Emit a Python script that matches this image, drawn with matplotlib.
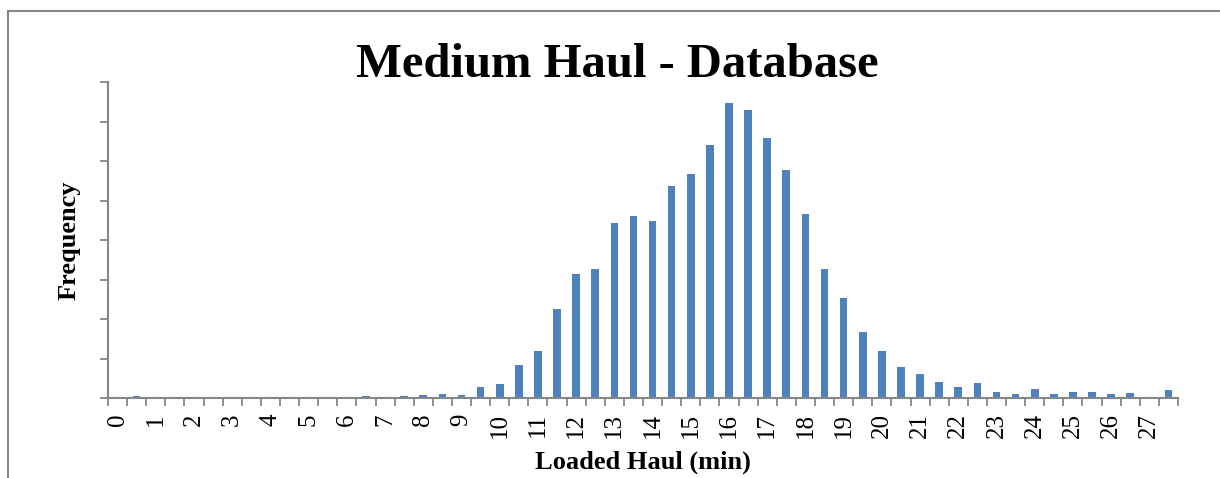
import numpy as np
from matplotlib import pyplot as plt
from matplotlib.lines import Line2D

# haul time bins (half-minute steps), only whole minutes get a label
bins = np.arange(0, 28, 0.5)
tick_labels = [str(m) for m in range(28)]
freq = [0.01, 0.05, 0.0, 0.01, 0.0, 0.03, 0.01, 0.0, 0.01, 0.0,
        0.0, 0.0, 0.01, 0.04, 0.01, 0.05, 0.08, 0.10, 0.08, 0.27,
        0.35, 0.84, 1.19, 2.25, 3.13, 3.26, 4.43, 4.61, 4.48, 5.37,
        5.66, 6.41, 7.46, 7.29, 6.59, 5.77, 4.65, 3.27, 2.54, 1.66,
        1.18, 0.79, 0.62, 0.41, 0.27, 0.37, 0.16, 0.11, 0.23, 0.11,
        0.16, 0.16, 0.09, 0.12, 0.03, 0.19]

plt.rcParams['font.family'] = ['Liberation Serif', 'DejaVu Serif']
axis_grey = '#868686'

fig = plt.figure(figsize=(12.2, 4.78), dpi=100)
ax = fig.add_axes([108 / 1220, 1 - 398 / 478, 1070 / 1220, 316 / 478])

pos = np.arange(len(bins))
ax.bar(pos, freq, width=0.4, color='#4F81BD', edgecolor='none')

ax.set_xlim(-0.5, len(bins) - 0.5)
ax.set_ylim(0, 8)
ax.set_yticks(range(9))
ax.set_yticklabels([])

ax.set_xticks(pos[::2])
ax.set_xticklabels(tick_labels, rotation=90, fontsize=18)
ax.set_xticks(np.arange(-0.5, len(bins)), minor=True)
ax.tick_params(axis='x', which='major', length=0, pad=11)
ax.tick_params(axis='x', which='minor', length=6, color=axis_grey, width=1.3)
ax.tick_params(axis='y', length=6, color=axis_grey, width=1.3)

for side in ['top', 'right']:
    ax.spines[side].set_visible(False)
for side in ['left', 'bottom']:
    ax.spines[side].set_color(axis_grey)
    ax.spines[side].set_linewidth(1.5)

ax.set_xlabel('Loaded Haul (min)', fontsize=19, fontweight='bold', labelpad=9)
ax.set_ylabel('Frequency', fontsize=19, fontweight='bold', labelpad=10)

fig.text(617 / 1220, 1 - 77 / 478, 'Medium Haul - Database', fontsize=35,
         fontweight='bold', ha='center', va='baseline')

# chart area border, running off the right and bottom edges
fig.add_artist(Line2D([7.5 / 1220, 7.5 / 1220], [0, 1 - 10.5 / 478],
                      color=axis_grey, lw=1.5, transform=fig.transFigure))
fig.add_artist(Line2D([7.5 / 1220, 1], [1 - 10.5 / 478, 1 - 10.5 / 478],
                      color=axis_grey, lw=1.5, transform=fig.transFigure))

fig.savefig('out.png', dpi=100)
